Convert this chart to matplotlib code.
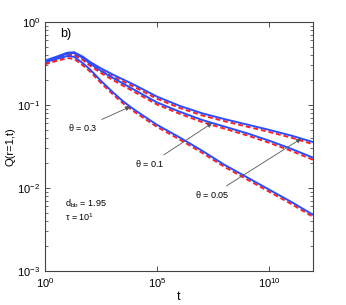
import numpy as np
import matplotlib
matplotlib.use("Agg")
import matplotlib.pyplot as plt
from matplotlib.ticker import LogLocator, NullFormatter, NullLocator, FixedLocator

plt.rcParams['font.family'] = ['Liberation Sans', 'DejaVu Sans']
plt.rcParams['mathtext.fontset'] = 'custom'
plt.rcParams['mathtext.rm'] = 'Liberation Sans'
plt.rcParams['mathtext.it'] = 'Liberation Sans'

# log10 of time points
log_t = [0, 0.5, 1, 1.3, 1.7, 2, 2.5, 3, 3.5, 4, 5, 6, 7, 8, 9, 10, 11, 12]
# log10 of Q for each theta (blue solid and red dashed)
lq_005_blue = [-0.466, -0.42, -0.37, -0.365, -0.42, -0.48, -0.56, -0.63, -0.695, -0.76, -0.90, -1.01, -1.10, -1.17, -1.235, -1.30, -1.37, -1.45]
lq_005_red = [-0.491, -0.445, -0.395, -0.39, -0.445, -0.505, -0.585, -0.655, -0.72, -0.785, -0.925, -1.035, -1.125, -1.195, -1.26, -1.325, -1.395, -1.475]
lq_01_blue = [-0.475, -0.43, -0.38, -0.375, -0.435, -0.50, -0.59, -0.67, -0.745, -0.82, -0.97, -1.08, -1.18, -1.26, -1.34, -1.43, -1.53, -1.64]
lq_01_red = [-0.50, -0.455, -0.405, -0.40, -0.46, -0.525, -0.615, -0.695, -0.77, -0.845, -0.995, -1.105, -1.205, -1.285, -1.365, -1.455, -1.555, -1.665]
lq_03_blue = [-0.485, -0.445, -0.41, -0.42, -0.50, -0.57, -0.71, -0.84, -0.96, -1.06, -1.24, -1.39, -1.55, -1.72, -1.87, -2.02, -2.17, -2.33]
lq_03_red = [-0.51, -0.47, -0.435, -0.445, -0.525, -0.595, -0.735, -0.865, -0.985, -1.085, -1.265, -1.415, -1.575, -1.745, -1.895, -2.045, -2.195, -2.355]

t = 10.0 ** np.array(log_t)

fig = plt.figure(figsize=(3.46, 3.05), dpi=100)
ax = fig.add_axes([0.130, 0.1115, 0.775, 0.8165])

blue = '#2b4cff'
red = '#ff2020'
for lb, lr in [(lq_005_blue, lq_005_red), (lq_01_blue, lq_01_red), (lq_03_blue, lq_03_red)]:
    ax.plot(t, 10.0 ** np.array(lr), color=red, lw=1.4, ls=(0, (2.5, 1.5)), zorder=2)
    ax.plot(t, 10.0 ** np.array(lb), color=blue, lw=1.4, zorder=3)

ax.set_xscale('log')
ax.set_yscale('log')
ax.set_xlim(1, 10 ** 11.96)
ax.set_ylim(1e-3, 1)

ax.xaxis.set_major_locator(FixedLocator([1, 1e5, 1e10]))
ax.xaxis.set_minor_locator(NullLocator())
ax.yaxis.set_major_locator(LogLocator(base=10, numticks=10))
ax.yaxis.set_minor_locator(LogLocator(base=10, subs=np.arange(2, 10), numticks=20))
ax.yaxis.set_minor_formatter(NullFormatter())

ax.tick_params(which='both', direction='in', top=True, right=True, labelsize=8, colors='#333333', labelcolor='black')
ax.tick_params(which='major', length=3.5, width=0.6)
ax.tick_params(which='minor', length=2, width=0.5)
for s in ax.spines.values():
    s.set_color('#444444')
    s.set_linewidth(0.8)

ax.set_xlabel('t', fontsize=9, labelpad=1)
ax.set_ylabel('Q(r=1,t)', fontsize=8, labelpad=1)

ax.text(0.055, 0.975, 'b)', transform=ax.transAxes, fontsize=9, va='top', ha='left')
ax.text(0.075, 0.27, r'd$_{\rm bb}$ = 1.95', transform=ax.transAxes, fontsize=6.5, va='center', ha='left')
ax.text(0.075, 0.215, r'$\tau$ = 10$^{1}$', transform=ax.transAxes, fontsize=6.5, va='center', ha='left')

def on_curve(lq, lt):
    return 10 ** lt, 10 ** np.interp(lt, log_t, lq)

arrow = dict(arrowstyle='-|>', color='#555555', lw=0.6, mutation_scale=7, shrinkA=1, shrinkB=0)
ax.annotate(r'$\theta$ = 0.3', xy=on_curve(lq_03_blue, 3.8), xytext=(10 ** 1.70, 10 ** -1.277),
            fontsize=6.5, ha='center', va='center', arrowprops=arrow)
ax.annotate(r'$\theta$ = 0.1', xy=on_curve(lq_01_blue, 7.46), xytext=(10 ** 4.69, 10 ** -1.71),
            fontsize=6.5, ha='center', va='center', arrowprops=arrow)
ax.annotate(r'$\theta$ = 0.05', xy=on_curve(lq_005_blue, 11.43), xytext=(10 ** 7.46, 10 ** -2.084),
            fontsize=6.5, ha='center', va='center', arrowprops=arrow)

fig.savefig('out.png', dpi=100)
